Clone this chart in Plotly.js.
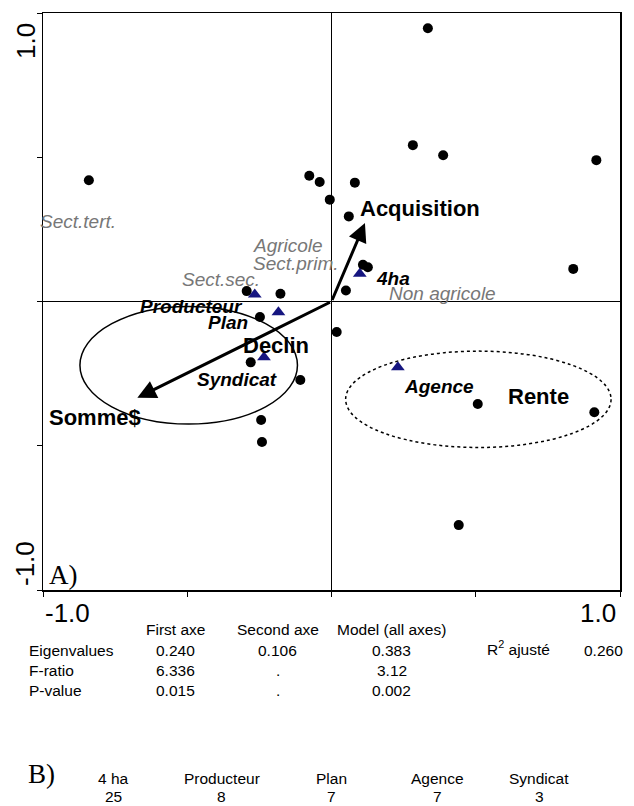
<!DOCTYPE html>
<html><head><meta charset="utf-8">
<script src="https://cdn.plot.ly/plotly-3.0.1.min.js"></script>
<style>html,body{margin:0;padding:0;background:#fff;} #chart{width:634px;height:806px;}</style>
</head><body><div id="chart"></div>
<script>
// ---- DATA ----
// sites (black dots)
const siteX = [0.334,-0.841,-0.077,-0.041,0.081,0.282,0.387,0.918,-0.006,0.060,0.109,0.126,0.838,0.050,-0.294,-0.177,-0.248,0.018,-0.280,-0.108,0.507,0.911,-0.244,-0.241,0.441];
const siteY = [0.947,0.420,0.436,0.414,0.412,0.542,0.507,0.490,0.353,0.295,0.127,0.119,0.113,0.038,0.036,0.027,-0.054,-0.106,-0.211,-0.272,-0.355,-0.384,-0.411,-0.487,-0.775];
// nominal variable centroids (triangles)
const centroidNames = ["4ha","Sect.sec.","Plan","Syndicat","Agence"];
const centroidX = [0.098,-0.266,-0.184,-0.234,0.230];
const centroidY = [0.096,0.024,-0.037,-0.193,-0.228];
// quantitative variables (arrows from origin)
const arrowNames = ["Acquisition","Somme$"];
const arrowX = [0.116,-0.673];
const arrowY = [0.272,-0.334];
// site groups (ellipses): centre and radii
const groupNames = ["Declin","Rente"];
const groupCX = [-0.495,0.509];
const groupCY = [-0.221,-0.339];
const groupRX = [0.377,0.460];
const groupRY = [0.204,0.167];
// axis tick labels
const axisTickLabels = ["-1.0","1.0"];
// statistics table
const statCols = ["First axe","Second axe","Model (all axes)"];
const statRows = ["Eigenvalues","F-ratio","P-value"];
const eigenvalues = ["0.240","0.106","0.383"];
const fRatio = ["6.336",".","3.12"];
const pValue = ["0.015",".","0.002"];
const r2Label = "R<sup>2</sup> ajusté";
const r2Value = "0.260";
// B) counts
const countNames = ["4 ha","Producteur","Plan","Agence","Syndicat"];
const counts = [25,8,7,7,3];

// ---- LAYOUT HELPERS ----
const SANS = "Liberation Sans, Arial, sans-serif";
const SERIF = "Liberation Serif, Times New Roman, serif";
const L = 43, T = 13, W = 577, H = 577;
const px = v => (v - L) / W;
const py = v => (T + H - v) / H;
const GREY = "#777777";

const annotations = [];
// point/arrow labels (data coords, left-anchored)
const labelPlacement = [
  ["<b>Acquisition</b>", 0.095, 0.321, 22, "#000", 0],
  ["<i>Sect.tert.</i>", -1.0, 0.278, 19, GREY, -4],
  ["<i>Agricole</i>", -0.276, 0.193, 19, GREY, 0],
  ["<i>Sect.prim.</i>", -0.276, 0.131, 19, GREY, 0],
  ["<i>Sect.sec.</i>", -0.520, 0.078, 19, GREY, 0],
  ["<b><i>4ha</i></b>", 0.151, 0.081, 19, "#000", 0],
  ["<i>Non agricole</i>", 0.196, 0.029, 19, GREY, 0],
  ["<b><i>Producteur</i></b>", -0.666, -0.018, 19, "#000", 0],
  ["<b><i>Plan</i></b>", -0.430, -0.073, 19, "#000", 0],
  ["<b>Declin</b>", -0.310, -0.154, 22, "#000", 0],
  ["<b><i>Syndicat</i></b>", -0.468, -0.271, 19, "#000", 0],
  ["<b>Somme$</b>", -0.981, -0.402, 22, "#000", 0],
  ["<b><i>Agence</i></b>", 0.249, -0.295, 19, "#000", 0],
  ["<b>Rente</b>", 0.610, -0.331, 22, "#000", 0]
];
labelPlacement.forEach(([t,x,y,s,c,sh]) => annotations.push({
  text: t, x: x, y: y, xref: "x", yref: "y", xanchor: "left", yanchor: "middle", xshift: sh,
  showarrow: false, borderpad: 0, font: {family: SANS, size: s, color: c}
}));

// arrows
arrowNames.forEach((n,i) => annotations.push({
  text: "", x: arrowX[i], y: arrowY[i], ax: 0, ay: 0, axref: "x", ayref: "y",
  xref: "x", yref: "y", showarrow: true, arrowhead: 2, arrowsize: 1.25, arrowwidth: 3,
  arrowcolor: "#000", standoff: 0, startstandoff: 0
}));

// axis labels
annotations.push({text: axisTickLabels[0], xref: "paper", yref: "paper", x: px(43), y: py(613),
  xanchor: "left", yanchor: "middle", showarrow: false, font: {family: SANS, size: 26, color: "#000"}});
annotations.push({text: axisTickLabels[1], xref: "paper", yref: "paper", x: px(618), y: py(613),
  xanchor: "right", yanchor: "middle", showarrow: false, font: {family: SANS, size: 26, color: "#000"}});
annotations.push({text: axisTickLabels[1], xref: "paper", yref: "paper", x: px(26), y: py(41),
  xanchor: "center", yanchor: "middle", textangle: -90, showarrow: false, font: {family: SANS, size: 26, color: "#000"}});
annotations.push({text: axisTickLabels[0], xref: "paper", yref: "paper", x: px(25), y: py(564),
  xanchor: "center", yanchor: "middle", textangle: -90, showarrow: false, font: {family: SANS, size: 26, color: "#000"}});
// panel letters
annotations.push({text: "A)", xref: "paper", yref: "paper", x: px(47), y: py(575),
  xanchor: "left", yanchor: "middle", showarrow: false, font: {family: SERIF, size: 27, color: "#000"}});
annotations.push({text: "B)", xref: "paper", yref: "paper", x: px(26), y: py(774),
  xanchor: "left", yanchor: "middle", showarrow: false, font: {family: SERIF, size: 27, color: "#000"}});

// statistics table
const colCenters = [175.5, 277.5, 391.5];
const rowYs = [650, 670, 690];
const tf = {family: SANS, size: 15.5, color: "#000"};
statCols.forEach((c,i) => annotations.push({text: c, xref: "paper", yref: "paper", x: px(colCenters[i]), y: py(629),
  xanchor: "center", yanchor: "middle", showarrow: false, font: tf}));
statRows.forEach((r,j) => annotations.push({text: r, xref: "paper", yref: "paper", x: px(27), y: py(rowYs[j]),
  xanchor: "left", yanchor: "middle", showarrow: false, font: tf}));
[eigenvalues, fRatio, pValue].forEach((row,j) => row.forEach((v,i) => annotations.push({text: v, xref: "paper", yref: "paper",
  x: px(colCenters[i]), y: py(rowYs[j]), xanchor: "center", yanchor: "middle", showarrow: false, font: tf})));
annotations.push({text: r2Label, xref: "paper", yref: "paper", x: px(485), y: py(648),
  xanchor: "left", yanchor: "middle", showarrow: false, font: tf});
annotations.push({text: r2Value, xref: "paper", yref: "paper", x: px(603), y: py(650),
  xanchor: "center", yanchor: "middle", showarrow: false, font: tf});

// B) counts
const countCenters = [113, 221.5, 331, 437, 539];
countNames.forEach((n,i) => {
  annotations.push({text: n, xref: "paper", yref: "paper", x: px(countCenters[i]), y: py(779),
    xanchor: "center", yanchor: "middle", showarrow: false, font: tf});
  annotations.push({text: String(counts[i]), xref: "paper", yref: "paper", x: px(countCenters[i]), y: py(796),
    xanchor: "center", yanchor: "middle", showarrow: false, font: tf});
});

// ellipses
const shapes = groupNames.map((g,i) => ({
  type: "circle", xref: "x", yref: "y",
  x0: groupCX[i] - groupRX[i], x1: groupCX[i] + groupRX[i],
  y0: groupCY[i] - groupRY[i], y1: groupCY[i] + groupRY[i],
  line: {color: "#000", width: 1.5, dash: i === 0 ? "solid" : "dot"}
}));

const traces = [
  {type: "scatter", mode: "markers", x: siteX, y: siteY, name: "sites",
   marker: {symbol: "circle", size: 10, color: "#000"}, hoverinfo: "skip", cliponaxis: false},
  {type: "scatter", mode: "markers", x: centroidX, y: centroidY, name: "centroids", text: centroidNames,
   marker: {symbol: "triangle-up", size: 12, color: "#161680"}, hoverinfo: "skip", cliponaxis: false}
];

const axisBase = {
  range: [-1, 1], showgrid: false, zeroline: true, zerolinecolor: "#000", zerolinewidth: 1,
  showline: true, linecolor: "#000", linewidth: 1.5, mirror: true,
  ticks: "outside", ticklen: 5, tickwidth: 1, tickcolor: "#000",
  tickvals: [-1, -0.5, 0, 0.5, 1], showticklabels: false, fixedrange: true
};

const layout = {
  width: 634, height: 806,
  margin: {l: L, r: 634 - L - W, t: T, b: 806 - T - H, pad: 0},
  paper_bgcolor: "#fff", plot_bgcolor: "#fff",
  showlegend: false,
  xaxis: Object.assign({}, axisBase),
  yaxis: Object.assign({}, axisBase),
  annotations: annotations,
  shapes: shapes
};

Plotly.newPlot("chart", traces, layout, {staticPlot: true, displayModeBar: false});
</script>
</body></html>
